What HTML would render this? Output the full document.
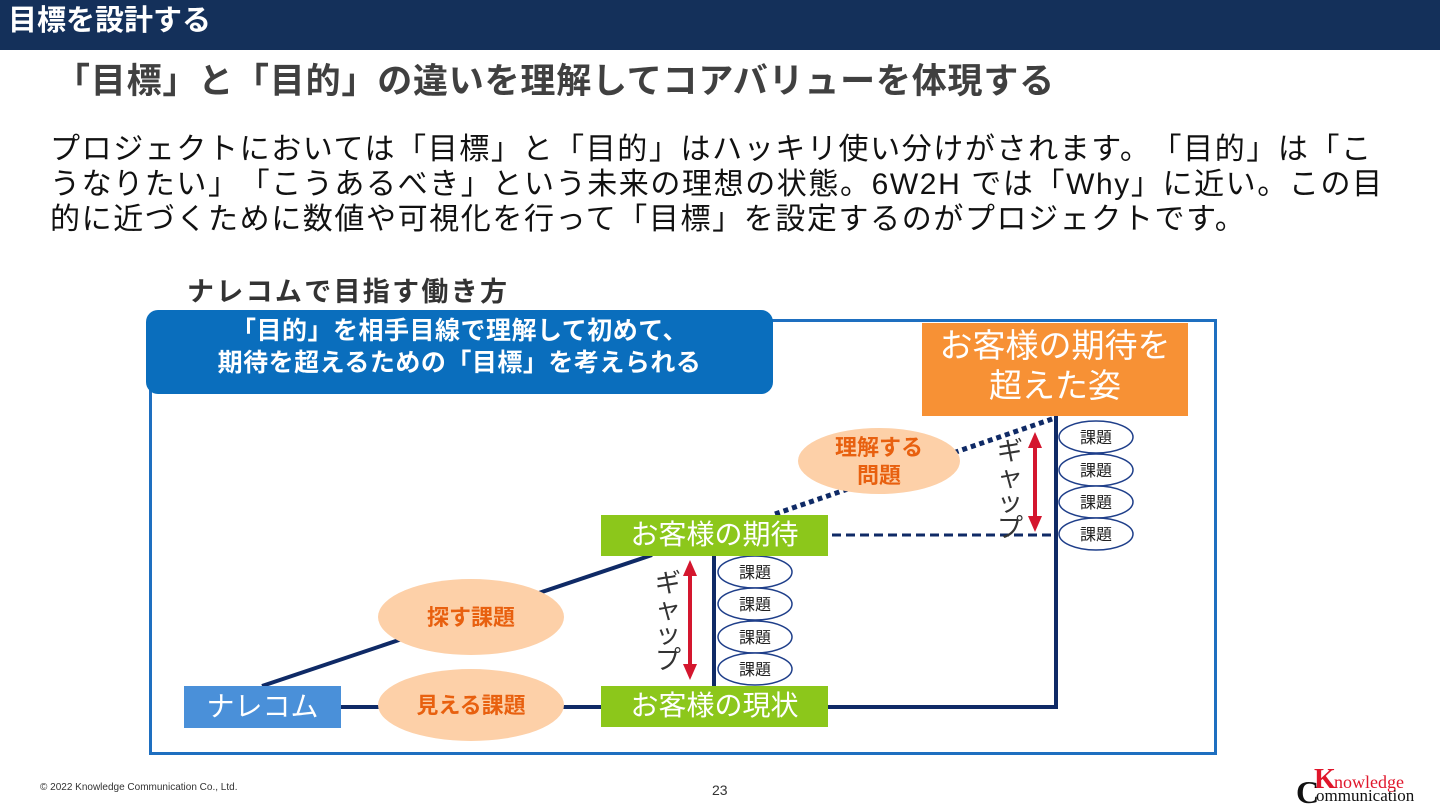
<!DOCTYPE html>
<html><head><meta charset="utf-8"><style>
body{margin:0;width:1440px;height:807px;position:relative;background:#fff;overflow:hidden;font-family:"Liberation Sans","Noto Sans CJK JP",sans-serif;text-spacing-trim:space-all;}
.a{position:absolute;white-space:nowrap;}
</style></head><body>
<div class="a" style="left:0;top:0;width:1440px;height:50px;background:#14305a;"></div>
<div class="a" style="left:8px;top:2px;color:#fff;font-size:29px;font-weight:bold;line-height:38px;">目標を設計する</div>
<div class="a" style="left:55px;top:61px;color:#404040;font-size:35px;font-weight:bold;line-height:42px;letter-spacing:0.8px;">「目標」と「目的」の違いを理解してコアバリューを体現する</div>
<div class="a" style="left:50px;top:132px;color:#111;font-size:30px;line-height:35px;letter-spacing:1.6px;">プロジェクトにおいては「目標」と「目的」はハッキリ使い分けがされます。「目的」は「こ<br>うなりたい」「こうあるべき」という未来の理想の状態。6W2H では「Why」に近い。この目<br>的に近づくために数値や可視化を行って「目標」を設定するのがプロジェクトです。</div>
<div class="a" style="left:187px;top:275px;color:#333;font-size:27px;font-weight:bold;line-height:34px;letter-spacing:2.3px;">ナレコムで目指す働き方</div>

<svg class="a" style="left:0;top:0" width="1440" height="807">
<rect x="150.5" y="320.5" width="1065" height="433" fill="none" stroke="#1e6fc0" stroke-width="3"/>
<rect x="146" y="310" width="627" height="84" rx="12" fill="#0a6ebd"/>
<rect x="922" y="323" width="266" height="93" fill="#f79135"/>
<g stroke="#0f2a66" stroke-width="4" fill="none">
<line x1="262" y1="686" x2="652" y2="555"/>
<line x1="341" y1="707" x2="601" y2="707"/>
<polyline points="828,707 1056,707 1056,416"/>
<line x1="714" y1="556" x2="714" y2="686"/>
<line x1="832" y1="535" x2="1056" y2="535" stroke-width="3" stroke-dasharray="9,5"/>
<line x1="775" y1="514" x2="1055" y2="418" stroke-width="5" stroke-dasharray="5,4"/>
</g>
<ellipse cx="471" cy="617" rx="93" ry="38" fill="#fdd0a8"/>
<ellipse cx="471" cy="705" rx="93" ry="36" fill="#fdd0a8"/>
<ellipse cx="879" cy="461" rx="81" ry="33" fill="#fdd0a8"/>
<g fill="#fff" stroke="#1f3f8a" stroke-width="1.5">
<ellipse cx="755" cy="572" rx="37" ry="16"/><ellipse cx="755" cy="604" rx="37" ry="16"/><ellipse cx="755" cy="637" rx="37" ry="16"/><ellipse cx="755" cy="669" rx="37" ry="16"/>
<ellipse cx="1096" cy="437" rx="37" ry="16"/><ellipse cx="1096" cy="470" rx="37" ry="16"/><ellipse cx="1096" cy="502" rx="37" ry="16"/><ellipse cx="1096" cy="534" rx="37" ry="16"/>
</g>
<g font-size="16" fill="#222" text-anchor="middle" font-family="Liberation Sans,Noto Sans CJK JP,sans-serif">
<text x="755" y="578">課題</text><text x="755" y="610">課題</text><text x="755" y="643">課題</text><text x="755" y="675">課題</text>
<text x="1096" y="443">課題</text><text x="1096" y="476">課題</text><text x="1096" y="508">課題</text><text x="1096" y="540">課題</text>
</g>
<g stroke="#d4162e" stroke-width="4" fill="#d4162e">
<line x1="690" y1="572" x2="690" y2="668"/>
<polygon points="690,560 683,576 697,576" stroke="none"/><polygon points="690,680 683,664 697,664" stroke="none"/>
<line x1="1035" y1="444" x2="1035" y2="520"/>
<polygon points="1035,432 1028,448 1042,448" stroke="none"/><polygon points="1035,532 1028,516 1042,516" stroke="none"/>
</g>
<g font-size="22" font-weight="bold" fill="#e8600f" text-anchor="middle" font-family="Liberation Sans,Noto Sans CJK JP,sans-serif">
<text x="471" y="625">探す課題</text><text x="471" y="713">見える課題</text>
<text x="879" y="455">理解する</text><text x="879" y="483">問題</text>
</g>
<g font-size="26" fill="#333" text-anchor="middle" font-family="Liberation Sans,Noto Sans CJK JP,sans-serif">
<text x="668" y="592">ギ</text><text x="668" y="618">ャ</text><text x="668" y="643">ッ</text><text x="668" y="669">プ</text>
<text x="1010" y="460">ギ</text><text x="1010" y="486">ャ</text><text x="1010" y="511">ッ</text><text x="1010" y="537">プ</text>
</g>
</svg>
<div class="a" style="left:146px;top:315px;width:627px;text-align:center;color:#fff;font-size:25px;font-weight:bold;line-height:32px;letter-spacing:0.5px;">「目的」を相手目線で理解して初めて、<br>期待を超えるための「目標」を考えられる</div>
<div class="a" style="left:922px;top:326px;width:266px;text-align:center;color:#fff;font-size:33px;line-height:40px;">お客様の期待を<br>超えた姿</div>
<div class="a" style="left:601px;top:515px;width:227px;height:41px;background:#8cc71b;color:#fff;font-size:28px;line-height:40px;text-align:center;">お客様の期待</div>
<div class="a" style="left:601px;top:686px;width:227px;height:41px;background:#8cc71b;color:#fff;font-size:28px;line-height:40px;text-align:center;">お客様の現状</div>
<div class="a" style="left:184px;top:686px;width:157px;height:42px;background:#4a90d9;color:#fff;font-size:28px;line-height:41px;text-align:center;">ナレコム</div>
<div class="a" style="left:40px;top:782px;font-size:10px;color:#333;">© 2022 Knowledge Communication Co., Ltd.</div>
<div class="a" style="left:712px;top:782px;font-size:14px;color:#333;">23</div>
<div class="a" style="left:1296px;top:766px;font-family:'Liberation Serif',serif;">
<span class="a" style="left:18px;top:-2px;font-size:28px;font-weight:bold;color:#e0162b;">K</span>
<span class="a" style="left:38px;top:6px;font-size:18px;color:#e0162b;">nowledge</span>
<span class="a" style="left:0;top:8px;font-size:32px;font-weight:bold;color:#111;">C</span>
<span class="a" style="left:20px;top:20px;font-size:17px;color:#111;">ommunication</span>
</div>
</body></html>
